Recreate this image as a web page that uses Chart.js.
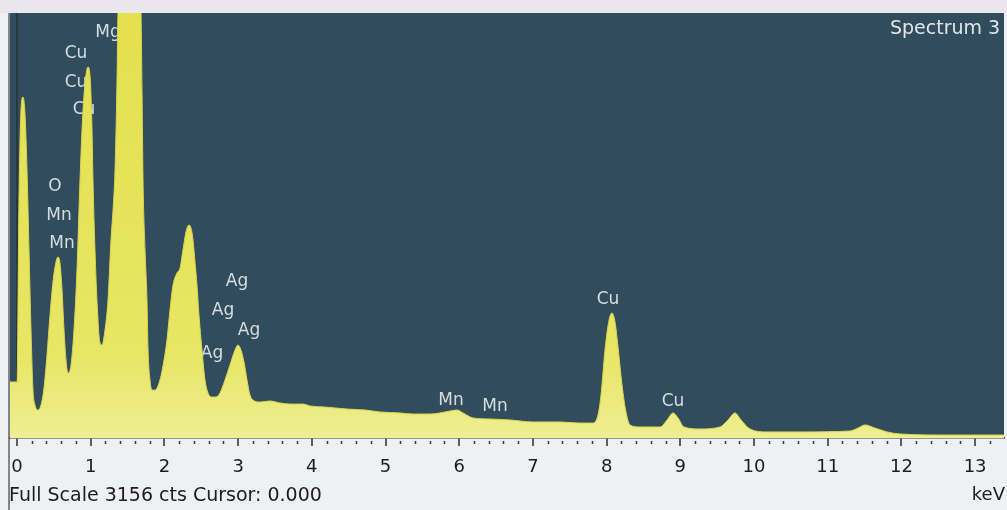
<!DOCTYPE html>
<html>
<head>
<meta charset="utf-8">
<script src="https://cdn.jsdelivr.net/npm/chart.js@4.4.1/dist/chart.umd.min.js"></script>
<style>
  html, body { margin: 0; padding: 0; background: #eef0f3; overflow: hidden; }
  canvas { display: block; }
</style>
</head>
<body>
<canvas id="spectrum" width="1007" height="510"></canvas>
<script>
// EDS spectrum: energy (keV) and counts
const energyKeV = [
  -0.095, 0.000, 0.027, 0.054, 0.081, 0.109, 0.136, 0.163, 0.190, 0.217,
  0.244, 0.285, 0.326, 0.366, 0.407, 0.448, 0.488, 0.529, 0.556, 0.583,
  0.611, 0.638, 0.665, 0.692, 0.733, 0.773, 0.814, 0.855, 0.896, 0.936,
  0.963, 0.990, 1.018, 1.031, 1.058, 1.085, 1.126, 1.153, 1.194, 1.235,
  1.275, 1.303, 1.330, 1.357, 1.370, 1.450, 1.520, 1.600, 1.683, 1.696,
  1.710, 1.737, 1.764, 1.777, 1.805, 1.832, 1.872, 1.940, 1.995, 2.035,
  2.076, 2.117, 2.171, 2.212, 2.252, 2.293, 2.334, 2.361, 2.388, 2.415,
  2.442, 2.469, 2.510, 2.551, 2.592, 2.646, 2.700, 2.754, 2.822, 2.890,
  2.958, 2.998, 3.039, 3.080, 3.121, 3.161, 3.202, 3.297, 3.433, 3.569,
  3.704, 3.881, 3.976, 4.179, 4.478, 4.722, 4.925, 5.197, 5.373, 5.604,
  5.739, 5.875, 5.970, 6.052, 6.187, 6.418, 6.689, 7.001, 7.368, 7.639,
  7.815, 7.883, 7.924, 7.978, 8.033, 8.073, 8.114, 8.155, 8.209, 8.263,
  8.318, 8.453, 8.725, 8.820, 8.901, 8.969, 9.050, 9.267, 9.539, 9.647,
  9.742, 9.824, 9.946, 10.176, 10.624, 11.303, 11.411, 11.506, 11.642, 11.805,
  11.981, 12.659, 13.392
];
const counts = [
  416, 416, 1767, 2436, 2532, 2399, 1990, 1396, 802, 356,
  245, 208, 245, 371, 616, 913, 1158, 1307, 1344, 1300,
  1099, 802, 579, 483, 542, 802, 1248, 1916, 2436, 2696,
  2755, 2696, 2287, 1916, 1396, 1025, 705, 691, 802, 1025,
  1470, 1693, 1990, 2658, 3156, 4600, 5200, 4600, 3156, 2584,
  1916, 1396, 1025, 676, 431, 356, 356, 431, 579, 728,
  951, 1136, 1225, 1262, 1396, 1530, 1582, 1559, 1470, 1307,
  1136, 913, 653, 431, 334, 304, 304, 334, 431, 542,
  653, 691, 653, 564, 431, 319, 282, 267, 275, 260,
  252, 252, 238, 230, 215, 208, 193, 186, 178, 178,
  186, 200, 208, 186, 149, 141, 134, 119, 119, 111,
  111, 171, 319, 653, 876, 928, 861, 676, 394, 193,
  97, 82, 82, 134, 186, 149, 82, 67, 82, 134,
  186, 134, 67, 45, 45, 52, 74, 97, 74, 45,
  30, 22, 22
];

// Axis settings
const fullScaleCounts = 3156;
const energyMin = -0.095;
const energyMax = 13.392;
const tickLabels = ['0', '1', '2', '3', '4', '5', '6', '7', '8', '9', '10', '11', '12', '13'];

// Peak identification labels (element, keV, counts)
const peakNames  = ['Mg', 'Cu', 'Cu', 'Cu', 'O', 'Mn', 'Mn', 'Ag', 'Ag', 'Ag', 'Ag', 'Mn', 'Mn', 'Cu', 'Cu'];
const peakKeV    = [1.235, 0.800, 0.800, 0.909, 0.516, 0.570, 0.611, 2.985, 2.795, 3.148, 2.646, 5.889, 6.486, 8.019, 8.901];
const peakCounts = [3008, 2852, 2636, 2436, 1864, 1649, 1441, 1158, 943, 795, 624, 275, 230, 1025, 267];

const spectrumTitle = 'Spectrum 3';
const footerText = 'Full Scale 3156 cts Cursor: 0.000';
const unitText = 'keV';

const FONT = '"DejaVu Sans", "Liberation Sans", sans-serif';

const backdrop = {
  id: 'backdrop',
  beforeDraw(chart) {
    const { ctx, chartArea: a, width, height } = chart;
    ctx.save();
    ctx.fillStyle = '#eef0f3';
    ctx.fillRect(0, 0, width, height);
    ctx.fillStyle = '#e9e6ee';
    ctx.fillRect(0, 0, width, a.top);
    ctx.fillStyle = '#314d5d';
    ctx.fillRect(a.left, a.top, a.right - a.left, a.bottom - a.top);
    // window frame on the left
    ctx.strokeStyle = '#80868c';
    ctx.lineWidth = 2;
    ctx.beginPath();
    ctx.moveTo(a.left - 1, a.top);
    ctx.lineTo(a.left - 1, height);
    ctx.stroke();
    ctx.restore();
  }
};

const peakLabelPlugin = {
  id: 'peakLabels',
  beforeDatasetsDraw(chart) {
    const { ctx, scales: { x, y } } = chart;
    ctx.save();
    ctx.font = '17px ' + FONT;
    ctx.fillStyle = '#d6dce0';
    ctx.textAlign = 'center';
    ctx.textBaseline = 'middle';
    peakNames.forEach((name, i) => {
      ctx.fillText(name, x.getPixelForValue(peakKeV[i]), y.getPixelForValue(peakCounts[i]));
    });
    ctx.restore();
  }
};

const textPlugin = {
  id: 'captions',
  afterDraw(chart) {
    const { ctx, chartArea: a, scales: { x }, height } = chart;
    ctx.save();
    // minor ticks every 0.2 keV
    ctx.strokeStyle = '#3a3a3a';
    ctx.lineWidth = 1.5;
    for (let k = 0; k <= 67; k++) {
      if (k % 5 === 0) continue;
      const px = Math.round(x.getPixelForValue(k * 0.2)) + 0.5;
      if (px > a.right) break;
      ctx.beginPath();
      ctx.moveTo(px, a.bottom + 3);
      ctx.lineTo(px, a.bottom + 6);
      ctx.stroke();
    }
    ctx.textBaseline = 'middle';
    ctx.font = '19px ' + FONT;
    ctx.fillStyle = '#e2e6ea';
    ctx.textAlign = 'left';
    ctx.fillText(spectrumTitle, a.right - 114, a.top + 16);
    ctx.fillStyle = '#1c1c1c';
    ctx.font = '19px ' + FONT;
    ctx.fillText(footerText, a.left - 1, height - 14);
    ctx.font = '18px ' + FONT;
    ctx.textAlign = 'right';
    ctx.fillText(unitText, a.right + 1, height - 15);
    ctx.restore();
  }
};

new Chart(document.getElementById('spectrum'), {
  type: 'line',
  data: {
    datasets: [{
      data: energyKeV.map((e, i) => ({ x: e, y: counts[i] })),
      borderColor: '#d9d64c',
      borderWidth: 1,
      pointRadius: 0,
      cubicInterpolationMode: 'monotone',
      fill: 'origin',
      backgroundColor(ctx) {
        const { chart } = ctx;
        const a = chart.chartArea;
        if (!a) return '#e6e35c';
        const g = chart.ctx.createLinearGradient(0, a.top, 0, a.bottom);
        g.addColorStop(0, '#e4e04e');
        g.addColorStop(0.8, '#e8e664');
        g.addColorStop(1, '#eeee92');
        return g;
      }
    }]
  },
  options: {
    responsive: false,
    devicePixelRatio: 1,
    animation: false,
    events: [],
    layout: { padding: { left: 10, right: 3, top: 13, bottom: 0 } },
    plugins: { legend: { display: false }, tooltip: { enabled: false } },
    scales: {
      x: {
        type: 'linear',
        min: energyMin,
        max: energyMax,
        z: 1,
        afterFit(scale) { scale.height = 72; },
        border: { display: true, color: '#3a3a3a', width: 1.5 },
        grid: {
          drawOnChartArea: true,
          drawTicks: true,
          tickLength: 8,
          tickColor: '#2e2e2e',
          tickWidth: 1.5,
          color: (c) => (c.tick && c.tick.value === 0 ? 'rgba(40,48,48,0.75)' : 'rgba(0,0,0,0)'),
          lineWidth: 2
        },
        ticks: {
          stepSize: 1,
          includeBounds: false,
          autoSkip: false,
          maxRotation: 0,
          padding: 11,
          color: '#1c1c1c',
          font: { family: FONT, size: 18 },
          callback: (v) => tickLabels[v] ?? ''
        }
      },
      y: {
        display: false,
        min: 0,
        max: fullScaleCounts
      }
    }
  },
  plugins: [backdrop, peakLabelPlugin, textPlugin]
});
</script>
</body>
</html>
